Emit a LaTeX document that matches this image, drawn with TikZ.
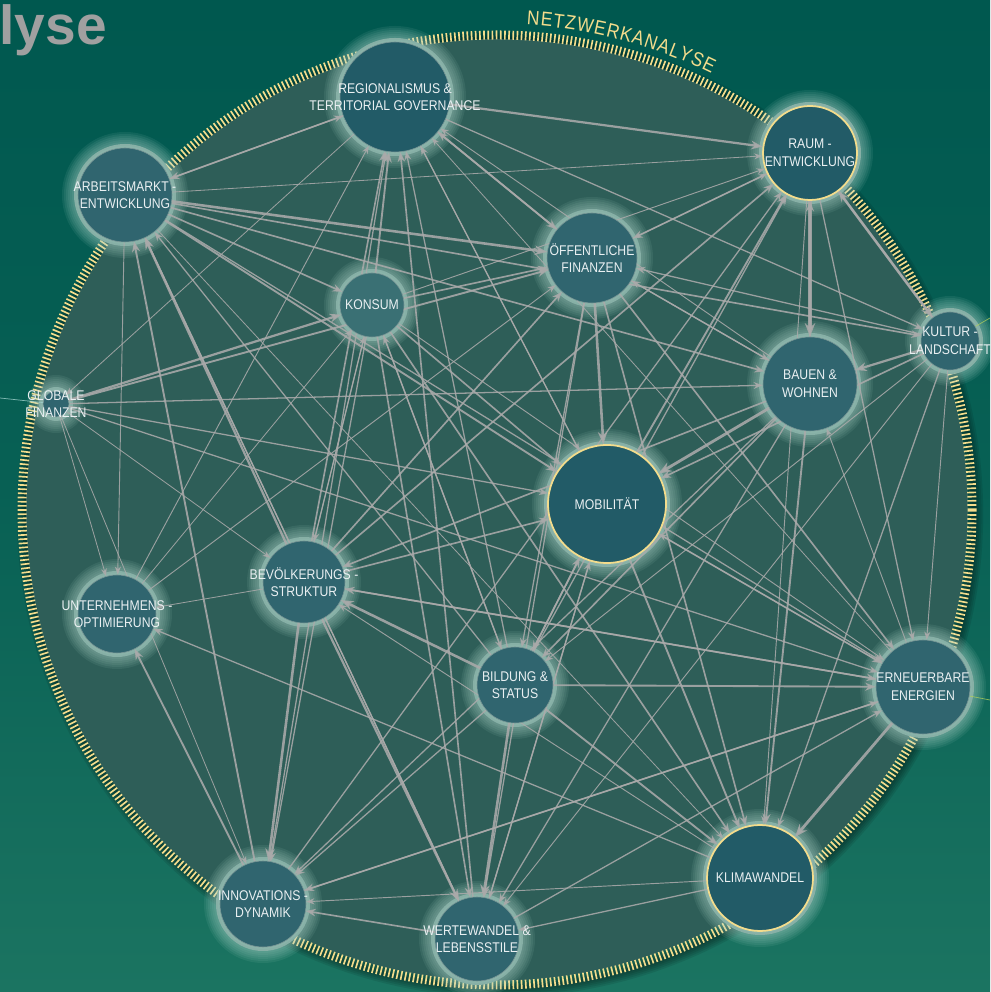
\documentclass[tikz,border=0pt]{standalone}
\usepackage{fontspec}
\setmainfont{Liberation Sans}[FakeStretch=0.87]
\newfontfamily\titlefont{Liberation Sans}
\usetikzlibrary{arrows.meta,decorations.text,calc}

\definecolor{bgtop}{RGB}{0,88,79}
\definecolor{bgbot}{RGB}{27,116,97}
\definecolor{disc}{RGB}{46,94,88}
\definecolor{tick}{RGB}{243,220,140}
\definecolor{nodec}{RGB}{48,101,111}
\definecolor{nodedk}{RGB}{34,91,103}
\definecolor{glowc}{RGB}{178,216,206}
\definecolor{linkc}{RGB}{170,170,170}
\definecolor{labc}{RGB}{234,240,242}
\definecolor{titlec}{RGB}{160,160,160}

\pgfdeclarelayer{back}
\pgfdeclarelayer{halo}
\pgfdeclarelayer{links}
\pgfsetlayers{back,halo,links,main}

\tikzset{
  topic/.style={circle, draw={rgb,255:red,120;green,150;blue,150}, line width=0.5pt,
    fill=nodec, minimum size=#1*0.6mm, inner sep=0pt},
  hot/.style={draw=tick, line width=1.5pt, fill=nodedk},
  lbl/.style={text=labc, align=center, inner sep=0pt,
    font=\fontsize{12}{15}\selectfont},
  lnk/.style={->, draw=linkc, opacity=0.88},
  stray/.style={line width=0.6pt, opacity=0.8}
}

\begin{document}
\begin{tikzpicture}[x=0.3mm, y=0.3mm, >={Stealth[length=5pt 2.5,width=3.6pt 2]}]

  \useasboundingbox (0,0) rectangle (990,992);
  \coordinate (c) at (497,482);

  % nodes
  \node[topic=55, hot, draw={rgb,255:red,120;green,150;blue,150}, line width=0.5pt,
    label={[lbl]center:REGIONALISMUS \&\\TERRITORIAL GOVERNANCE}] (reg) at (395,895) {};
  \node[topic=47, hot, label={[lbl]center:RAUM -\\ENTWICKLUNG}] (raum) at (810,839) {};
  \node[topic=47, label={[lbl]center:ARBEITSMARKT -\\ENTWICKLUNG}] (arb) at (125,797) {};
  \node[topic=45, label={[lbl]center:ÖFFENTLICHE\\FINANZEN}] (oef) at (592,734) {};
  \node[topic=32, fill={rgb,255:red,58;green,112;blue,116}, label={[lbl]center:KONSUM}] (kon) at (372,687) {};
  \node[topic=29, label={[lbl]center:KULTUR -\\LANDSCHAFT}] (kul) at (950,651) {};
  \node[topic=13, label={[lbl]center:GLOBALE\\FINANZEN}] (glo) at (56,588) {};
  \node[topic=47, label={[lbl]center:BAUEN \&\\WOHNEN}] (bau) at (810,608) {};
  \node[topic=59, hot, label={[lbl]center:MOBILITÄT}] (mob) at (607,488) {};
  \node[topic=41, label={[lbl]center:BEVÖLKERUNGS -\\STRUKTUR}] (bev) at (304,410) {};
  \node[topic=39, label={[lbl]center:UNTERNEHMENS -\\OPTIMIERUNG}] (unt) at (117,378) {};
  \node[topic=38, label={[lbl]center:BILDUNG \&\\STATUS}] (bil) at (515,307) {};
  \node[topic=47, label={[lbl]center:ERNEUERBARE\\ENERGIEN}] (ern) at (923,305) {};
  \node[topic=53, hot, label={[lbl]center:KLIMAWANDEL}] (kli) at (760,114) {};
  \node[topic=43, label={[lbl]center:INNOVATIONS -\\DYNAMIK}] (inn) at (263,88) {};
  \node[topic=42, label={[lbl]center:WERTEWANDEL \&\\LEBENSSTILE}] (wer) at (477,53) {};

  % title
  \node[anchor=base east, inner sep=0pt, text=titlec] (ttl) at (107,947)
    {\titlefont\bfseries\fontsize{47}{47}\selectfont lyse};

  \begin{pgfonlayer}{back}
    \shade[top color=bgtop, bottom color=bgbot, middle color=bgtop!70!bgbot]
      (0,0) rectangle (990,992);
    \foreach \k in {1,...,5}
      \draw[black, opacity=0.09, line width=\k*1.1mm] ($(c)+(3,-4)$) circle (474);
    \fill[disc] (c) circle (471);
    \draw[tick, line width=2.7mm, dash pattern=on 0.5mm off 0.75mm] (c) circle (475);
    \path[decorate, decoration={text along path, text align=fit to path,
      text={|\color{tick}\fontsize{17}{17}\selectfont|NETZWERKANALYSE}}]
      ($(c)+(86.5:486)$) arc[start angle=86.5, end angle=63.8, radius=486];
  \end{pgfonlayer}

  \begin{pgfonlayer}{halo}
    \foreach \n/\r in {reg/55, raum/47, arb/47, oef/45, kon/32, kul/29, glo/13,
        bau/47, mob/59, bev/41, unt/39, bil/38, ern/47, kli/53, inn/43, wer/42} {
      \fill[glowc!40!disc] (\n.center) circle (\r+4);
      \foreach \k in {1,...,8}
        \fill[glowc, opacity=0.09] (\n.center) circle (\r+2*\k);
    }
  \end{pgfonlayer}

  \begin{pgfonlayer}{links}
    \foreach \s/\t/\w in {
      arb/oef/2.2, arb/kul/1.4, arb/bau/1.4, arb/mob/1.6, arb/ern/1.1, arb/kon/1.4,
      arb/unt/0.8, arb/raum/0.7, arb/reg/1.1, arb/wer/1.1, arb/kli/0.7,
      reg/arb/1.4, bev/arb/1.9, inn/arb/1.6, wer/arb/1.1, bil/arb/1.1,
      reg/raum/1.9, reg/kul/1.1, reg/oef/1.6, reg/glo/0.7, reg/mob/0.8,
      kon/reg/1.6, bev/reg/1.4, bil/reg/1.1, wer/reg/1.4, mob/reg/1.1, oef/reg/1.4,
      bau/reg/0.8, ern/reg/0.7, unt/reg/0.8, inn/reg/1.1,
      raum/bau/2.6, bau/raum/1.6, raum/kul/2.2, kul/raum/1.6, raum/ern/1.1,
      raum/kli/0.8, raum/oef/1.4, kon/raum/0.8, bev/raum/1.4, mob/raum/1.6,
      bil/raum/1.1, inn/raum/1.1, oef/raum/0.8,
      kul/oef/1.1, kul/bau/1.9, kul/mob/1.4, kul/bil/0.8, kul/kli/1.1, kul/wer/0.8,
      kul/ern/0.8,
      oef/mob/2.2, oef/bau/1.1, oef/ern/1.4, oef/kli/1.4, oef/wer/1.1, oef/bil/1.1,
      kon/oef/1.4, glo/oef/1.6, unt/oef/0.8, bev/oef/1.4, bau/oef/1.1,
      glo/kon/1.9, kon/mob/1.4, kon/bev/1.1, kon/inn/1.1, kon/wer/1.4, kon/bil/1.1,
      kon/kli/1.4, kon/ern/0.8, bil/kon/1.1, bev/kon/0.8,
      glo/mob/1.1, glo/bau/1.1, glo/unt/0.7, glo/inn/0.7, glo/ern/1.1, glo/bev/0.7,
      bau/mob/2.4, mob/ern/1.4, mob/kli/1.6, mob/wer/1.1, mob/bil/1.4, bil/mob/1.4,
      bev/mob/1.4, wer/mob/1.1, ern/mob/0.8,
      bau/bev/1.4, bau/bil/1.4, bau/inn/1.1, bau/wer/1.1, bau/kli/1.6, ern/bau/0.8,
      bil/bev/2.2, ern/bev/1.4, bev/inn/2.2, bev/wer/1.9, bev/ern/1.4, bev/unt/0.7,
      kli/bev/0.8,
      inn/unt/1.6, kli/unt/1.1, unt/kon/0.7,
      bil/ern/1.6, bil/kli/1.6, bil/wer/2.2, bil/inn/1.1,
      ern/kli/2.4, ern/inn/1.4, inn/ern/1.1, wer/ern/1.1,
      kli/inn/0.8, kli/wer/1.1, wer/inn/1.4}
      \draw[lnk, line width=\w pt] (\s) -- (\t);

    % links leaving the picture
    \coordinate (kulout) at (990,674);
    \coordinate (gloout) at (0,594);
    \coordinate (ernout) at (990,292);
    \draw[stray, draw={rgb,255:red,175;green,205;blue,90}] (kul) -- (kulout);
    \draw[stray, draw={rgb,255:red,160;green,210;blue,205}] (glo) -- (gloout);
    \draw[stray, draw={rgb,255:red,175;green,205;blue,90}] (ern) -- (ernout);
  \end{pgfonlayer}

\end{tikzpicture}
\end{document}
